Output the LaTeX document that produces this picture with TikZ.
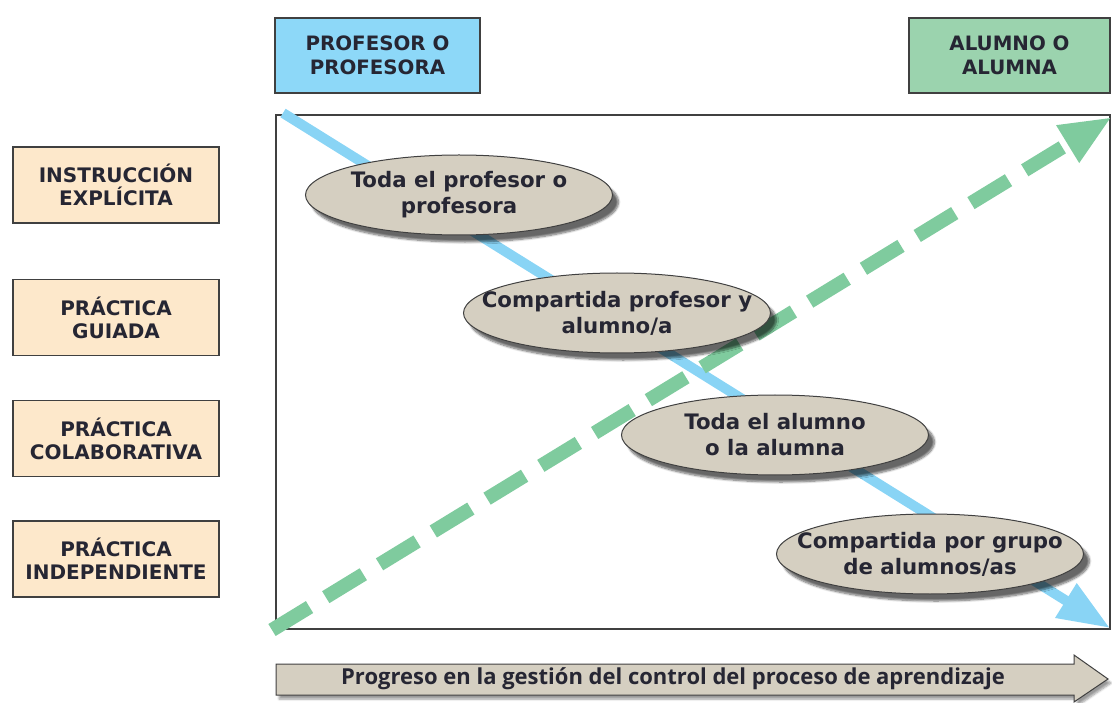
\documentclass[tikz,border=0pt]{standalone}
\usepackage{fontspec}
\setmainfont{Open Sans}
\newfontfamily\boxfont{DejaVu Sans}
\usetikzlibrary{shapes.geometric,arrows.meta,shadows,shadows.blur}
\definecolor{txt}{HTML}{262633}
\definecolor{profblue}{HTML}{8DD8F8}
\definecolor{alugreen}{HTML}{9BD3AE}
\definecolor{peach}{HTML}{FDE8CB}
\definecolor{beige}{HTML}{D5CFC1}
\definecolor{lineblue}{HTML}{89D4F5}
\definecolor{linegreen}{HTML}{7FCB9E}
\definecolor{frame}{HTML}{404040}
\tikzset{
  topbox/.style={draw=frame, line width=1.6pt, minimum width=205pt, minimum height=75pt, inner sep=0pt, align=center, font=\boxfont\fontsize{19.8}{24}\selectfont\bfseries, text=txt},
  sidebox/.style={draw=frame, line width=1.4pt, fill=peach, minimum width=206pt, minimum height=76pt, inner sep=0pt, align=center, font=\boxfont\fontsize{20}{23}\selectfont\bfseries, text=txt},
  oval/.style={ellipse, draw=frame, line width=1pt, fill=beige, minimum width=307pt, minimum height=80pt, inner sep=0pt, blur shadow={shadow xshift=6pt, shadow yshift=-7pt, shadow blur steps=8, shadow opacity=60}},
  ovaltext/.style={inner sep=0pt, align=center, font=\boxfont\fontsize{21.3}{26}\selectfont\bfseries, text=txt},
}
\begin{document}
\begin{tikzpicture}[x=1pt,y=-1pt]
\useasboundingbox (0,0) rectangle (1112,703);
% top boxes
\node[topbox, fill=profblue] (prof) at (377.5,55.5) {PROFESOR O\\PROFESORA};
\node[topbox, fill=alugreen, minimum width=201pt] (alu) at (1009.5,55.5) {ALUMNO O\\ALUMNA};
% frame
\node[draw=frame, line width=1.6pt, minimum width=834pt, minimum height=514pt, inner sep=0pt] (frm) at (693,372) {};
% left boxes
\node[sidebox] (ie) at (116,185) {INSTRUCCIÓN\\EXPLÍCITA};
\node[sidebox] (pg) at (116,317.5) {PRÁCTICA\\GUIADA};
\node[sidebox] (pc) at (116,438.5) {PRÁCTICA\\COLABORATIVA};
\node[sidebox] (pi) at (116,559) {PRÁCTICA\\INDEPENDIENTE};
% lines
\coordinate (bs) at (283,113);
\coordinate (be) at (1110,628);
\coordinate (gs) at (272,630);
\coordinate (ge) at (1112,117);
\draw[lineblue, line width=10pt, -{Triangle[length=52pt,width=38pt]}] (bs) -- (be);
\draw[linegreen, line width=14pt, dash pattern=on 44pt off 19pt, -{Triangle[length=52pt,width=40pt]}] (gs) -- (ge);
% ovals
\node[oval] (o1) at (459,195) {};
\node[ovaltext] (t1) at (o1) {Toda el profesor o\\profesora};
\node[oval] (o2) at (617,313) {};
\node[ovaltext] (t2) at (o2) {Compartida profesor y\\alumno/a};
\node[oval] (o3) at (775,435) {};
\node[ovaltext] (t3) at (o3) {Toda el alumno\\o la alumna};
\node[oval] (o4) at (930,554) {};
\node[ovaltext] (t4) at (o4) {Compartida por grupo\\de alumnos/as};
% bottom arrow
\draw[draw=frame, line width=1pt, fill=beige, blur shadow={shadow xshift=3pt, shadow yshift=-4pt, shadow blur steps=6, shadow opacity=40}] (276,664) -- (1074,664) -- (1074,655) -- (1108,679) -- (1074,702) -- (1074,695) -- (276,695) -- cycle;
\node[font=\fontsize{22}{26}\selectfont\bfseries, text=txt, inner sep=0pt] (prog) at (673,679) {Progreso en la gestión del control del proceso de aprendizaje};
\end{tikzpicture}
\end{document}
